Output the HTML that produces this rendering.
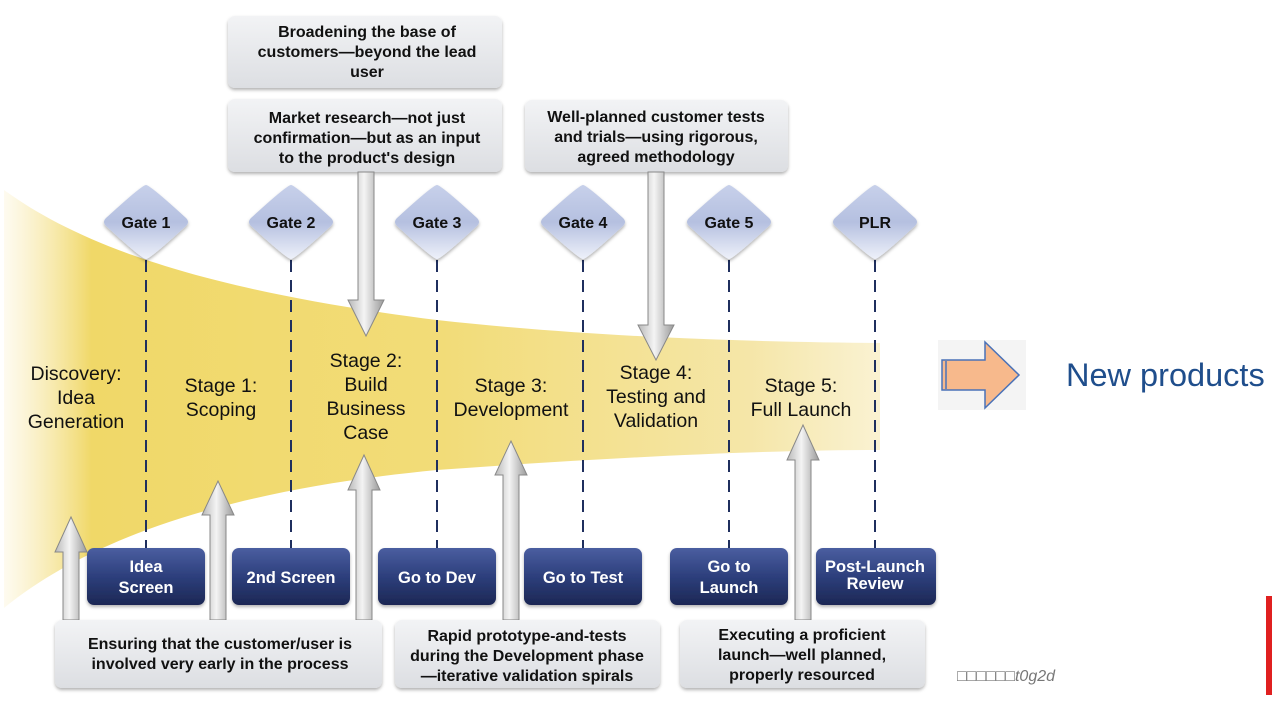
<!DOCTYPE html>
<html><head><meta charset="utf-8"><style>
body{margin:0;background:#fff;}
svg{display:block;font-family:"Liberation Sans",Arial,sans-serif;}
.b{font-weight:bold;}
</style></head><body>
<svg width="1272" height="702" viewBox="0 0 1272 702" xmlns="http://www.w3.org/2000/svg">
<defs>
<linearGradient id="fun" x1="0" x2="1" y1="0" y2="0">
<stop offset="0" stop-color="#f6e49a" stop-opacity="0.15"/>
<stop offset="0.1" stop-color="#f0d868"/>
<stop offset="0.5" stop-color="#f2dc78"/>
<stop offset="0.85" stop-color="#f5e6a8"/>
<stop offset="1" stop-color="#faf2d2"/>
</linearGradient>
<linearGradient id="dia" x1="0" x2="0" y1="0" y2="1">
<stop offset="0" stop-color="#c7d0ea"/><stop offset="0.5" stop-color="#b5c0e0"/><stop offset="1" stop-color="#eef1fa"/>
</linearGradient>
<linearGradient id="dark" x1="0" x2="0" y1="0" y2="1">
<stop offset="0" stop-color="#4a5ea0"/><stop offset="0.5" stop-color="#2d3f7c"/><stop offset="1" stop-color="#1c2754"/>
</linearGradient>
<linearGradient id="grey" x1="0" x2="0" y1="0" y2="1">
<stop offset="0" stop-color="#f2f3f5"/><stop offset="1" stop-color="#dcdee2"/>
</linearGradient>
<linearGradient id="arr" x1="0" x2="1" y1="0" y2="0">
<stop offset="0" stop-color="#b8b8b8"/><stop offset="0.45" stop-color="#f4f4f4"/><stop offset="1" stop-color="#9a9a9a"/>
</linearGradient>
<filter id="sh" x="-10%" y="-10%" width="120%" height="130%"><feDropShadow dx="0" dy="2" stdDeviation="1.5" flood-color="#000" flood-opacity="0.3"/></filter>
</defs>

<path d="M4,190 C80,245 200,290 437,320 C600,338 760,342 880,343 L880,450 C760,450 600,458 437,470 C250,488 100,530 4,608 Z" fill="url(#fun)"/>

<g stroke="#1f2f5e" stroke-width="2" stroke-dasharray="12,8">
<line x1="146" y1="260" x2="146" y2="548"/>
<line x1="291" y1="260" x2="291" y2="548"/>
<line x1="437" y1="260" x2="437" y2="548"/>
<line x1="583" y1="260" x2="583" y2="548"/>
<line x1="729" y1="260" x2="729" y2="548"/>
<line x1="875" y1="260" x2="875" y2="548"/>
</g>

<g filter="url(#sh)">
<path d="M146,185 Q150,185 186,218 Q190,222 186,226 Q150,259 146,259 Q142,259 106,226 Q102,222 106,218 Q142,185 146,185Z" fill="url(#dia)"/>
<path d="M291,185 Q295,185 331,218 Q335,222 331,226 Q295,259 291,259 Q287,259 251,226 Q247,222 251,218 Q287,185 291,185Z" fill="url(#dia)"/>
<path d="M437,185 Q441,185 477,218 Q481,222 477,226 Q441,259 437,259 Q433,259 397,226 Q393,222 397,218 Q433,185 437,185Z" fill="url(#dia)"/>
<path d="M583,185 Q587,185 623,218 Q627,222 623,226 Q587,259 583,259 Q579,259 543,226 Q539,222 543,218 Q579,185 583,185Z" fill="url(#dia)"/>
<path d="M729,185 Q733,185 769,218 Q773,222 769,226 Q733,259 729,259 Q725,259 689,226 Q685,222 689,218 Q725,185 729,185Z" fill="url(#dia)"/>
<path d="M875,185 Q879,185 915,218 Q919,222 915,226 Q879,259 875,259 Q871,259 835,226 Q831,222 835,218 Q871,185 875,185Z" fill="url(#dia)"/>
</g>
<g class="b" font-size="16" text-anchor="middle" fill="#111">
<text x="146" y="228">Gate 1</text><text x="291" y="228">Gate 2</text><text x="437" y="228">Gate 3</text>
<text x="583" y="228">Gate 4</text><text x="729" y="228">Gate 5</text><text x="875" y="228">PLR</text>
</g>

<g filter="url(#sh)" fill="url(#grey)">
<rect x="228" y="16" width="274" height="72" rx="7"/>
<rect x="228" y="99" width="274" height="73" rx="7"/>
<rect x="525" y="100" width="263" height="72" rx="7"/>
</g>
<g class="b" font-size="16" text-anchor="middle" fill="#111">
<text x="367" y="37">Broadening the base of</text><text x="367" y="57">customers—beyond the lead</text><text x="367" y="77">user</text>
<text x="367" y="123">Market research—not just</text><text x="367" y="143">confirmation—but as an input</text><text x="367" y="163">to the product's design</text>
<text x="656" y="122">Well-planned customer tests</text><text x="656" y="142">and trials—using rigorous,</text><text x="656" y="162">agreed methodology</text>
</g>

<g fill="url(#arr)" stroke="#888" stroke-width="1">
<path d="M358,172 L374,172 L374,300 L384,300 L366,336 L348,300 L358,300 Z"/>
<path d="M648,172 L664,172 L664,325 L674,325 L656,360 L638,325 L648,325 Z"/>
</g>

<g fill="url(#arr)" stroke="#888" stroke-width="1">
<path d="M63,620 L63,552 L55,552 L71,517 L87,552 L79,552 L79,620 Z"/>
<path d="M210,620 L210,515 L202,515 L218,481 L234,515 L226,515 L226,620 Z"/>
<path d="M356,620 L356,490 L348,490 L364,455 L380,490 L372,490 L372,620 Z"/>
<path d="M503,620 L503,475 L495,475 L511,441 L527,475 L519,475 L519,620 Z"/>
<path d="M795,620 L795,460 L787,460 L803,425 L819,460 L811,460 L811,620 Z"/>
</g>

<g font-size="19.5" text-anchor="middle" fill="#111">
<text x="76" y="380">Discovery:</text><text x="76" y="404">Idea</text><text x="76" y="428">Generation</text>
<text x="221" y="392">Stage 1:</text><text x="221" y="416">Scoping</text>
<text x="366" y="367">Stage 2:</text><text x="366" y="391">Build</text><text x="366" y="415">Business</text><text x="366" y="439">Case</text>
<text x="511" y="392">Stage 3:</text><text x="511" y="416">Development</text>
<text x="656" y="379">Stage 4:</text><text x="656" y="403">Testing and</text><text x="656" y="427">Validation</text>
<text x="801" y="392">Stage 5:</text><text x="801" y="416">Full Launch</text>
</g>

<g filter="url(#sh)" fill="url(#dark)">
<rect x="87" y="548" width="118" height="57" rx="7"/>
<rect x="232" y="548" width="118" height="57" rx="7"/>
<rect x="378" y="548" width="118" height="57" rx="7"/>
<rect x="524" y="548" width="118" height="57" rx="7"/>
<rect x="670" y="548" width="118" height="57" rx="7"/>
<rect x="816" y="548" width="120" height="57" rx="7"/>
</g>
<g class="b" font-size="16.5" text-anchor="middle" fill="#fff">
<text x="146" y="572">Idea</text><text x="146" y="593">Screen</text>
<text x="291" y="583">2nd Screen</text>
<text x="437" y="583">Go to Dev</text>
<text x="583" y="583">Go to Test</text>
<text x="729" y="572">Go to</text><text x="729" y="593">Launch</text>
<text x="875" y="572">Post-Launch</text><text x="875" y="589">Review</text>
</g>

<g filter="url(#sh)" fill="url(#grey)">
<rect x="55" y="620" width="327" height="68" rx="7"/>
<rect x="395" y="620" width="265" height="68" rx="7"/>
<rect x="680" y="620" width="245" height="68" rx="7"/>
</g>
<g class="b" font-size="16" text-anchor="middle" fill="#111">
<text x="220" y="649">Ensuring that the customer/user is</text><text x="220" y="669">involved very early in the process</text>
<text x="527" y="641">Rapid prototype-and-tests</text><text x="527" y="661">during the Development phase</text><text x="527" y="681">—iterative validation spirals</text>
<text x="802" y="640">Executing a proficient</text><text x="802" y="660">launch—well planned,</text><text x="802" y="680">properly resourced</text>
</g>

<rect x="938" y="340" width="88" height="70" fill="#f4f4f4"/>
<path d="M942,360 L985,360 L985,342 L1019,375 L985,408 L985,390 L942,390 Z" fill="#f7b98c" stroke="#4a72b8" stroke-width="1.5"/>
<line x1="946" y1="361" x2="946" y2="389" stroke="#4a72b8" stroke-width="1.5"/>
<text x="1066" y="386" font-size="32.5" fill="#1f4e8c">New products</text>

<text x="957" y="681" font-size="16" fill="#777" font-style="italic">□□□□□□t0g2d</text>
<rect x="1266" y="596" width="6" height="99" fill="#e02020"/>
</svg>
</body></html>
